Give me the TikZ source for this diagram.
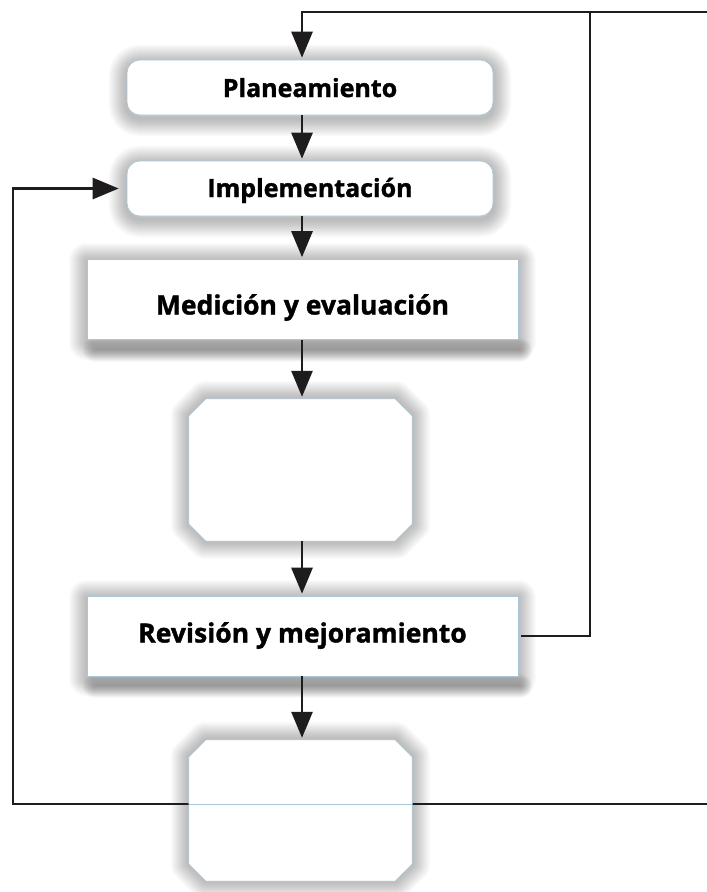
\documentclass[tikz,border=0pt]{standalone}
\usepackage{fontspec}
\setmainfont{Open Sans}[BoldFeatures={FakeBold=1.3}]
\usetikzlibrary{arrows.meta,calc}

\definecolor{edgeblue}{RGB}{168,200,218}
\definecolor{linkcol}{RGB}{30,28,28}

\pgfdeclarelayer{background}
\pgfsetlayers{background,main}

\tikzset{
  box/.style={inner sep=0pt, fill=white, draw=edgeblue, line width=0.6pt, font=\bfseries},
  roundbox/.style={box, rounded corners=13pt, minimum width=366pt, minimum height=55pt,
    font=\bfseries\fontsize{25}{28}\selectfont, text depth=0pt},
  flatbox/.style={box, rectangle, minimum width=431pt, minimum height=80pt,
    font=\bfseries\fontsize{26.5}{32}\selectfont},
  octspot/.style={inner sep=0pt, minimum width=223pt, minimum height=142pt},
  octface/.style={fill=white, draw=edgeblue, line width=0.6pt},
  glow/.style={draw=black!80, draw opacity=0.021, line join=round, line cap=round},
  dropglow/.style={draw=black!80, draw opacity=0.032, line cap=round},
  link/.style={draw=linkcol, line width=2.7pt},
  arrowlink/.style={link, -{Triangle[length=26pt,width=21pt]}, shorten >=2pt},
  octagon/.style 2 args={insert path={
    ([shift={(#2,0)}]#1.north west) -- ([shift={(-#2,0)}]#1.north east)
    -- ([shift={(0,#2)}]#1.north east) -- ([shift={(0,-#2)}]#1.south east)
    -- ([shift={(-#2,0)}]#1.south east) -- ([shift={(#2,0)}]#1.south west)
    -- ([shift={(0,-#2)}]#1.south west) -- ([shift={(0,#2)}]#1.north west) -- cycle}},
}

\begin{document}
\begin{tikzpicture}[x=1pt,y=-1pt]
\useasboundingbox (0,0) rectangle (707,892);

% process steps
\node[roundbox, text height=19pt] (plan) at (310,87.5) {Planeamiento};
\node[roundbox, text height=17pt] (impl) at (310,188.5) {Implementación};
\node[flatbox, text height=30pt, text depth=0pt] (med) at (302.5,299.5) {Medición y evaluación};
\node[octspot] (oct1) at (300.5,470) {};
\node[flatbox, text height=19pt, text depth=6pt] (rev) at (302.5,636) {Revisión y mejoramiento};
\node[octspot, minimum height=141pt] (oct2) at (300.5,810.5) {};

% routing points
\coordinate (spine) at (302,0);
\coordinate (rtop) at (590,12);
\coordinate (lbot) at (13,804);
\coordinate (edgeR) at (707,0);

\begin{pgfonlayer}{background}
  \fill[white] (0,0) rectangle (707,892);
  % return line under the last step
  \draw[link, line cap=rect] (lbot -| edgeR) -- (lbot);
  % soft glows: stacked translucent strokes fading outwards
  \foreach \k in {1,...,18}{
    \draw[glow, line width=2*\k pt, rounded corners=13pt]
      ([shift={(0,3)}]plan.north west) rectangle ([shift={(0,3)}]plan.south east);
    \draw[glow, line width=2*\k pt, rounded corners=13pt]
      ([shift={(0,3)}]impl.north west) rectangle ([shift={(0,3)}]impl.south east);
    \draw[glow, line width=2*\k pt]
      ([shift={(0,2)}]med.north west) rectangle ([shift={(0,2)}]med.south east);
    \draw[glow, line width=2*\k pt]
      ([shift={(0,2)}]rev.north west) rectangle ([shift={(0,2)}]rev.south east);
    \path[glow, line width=2*\k pt, octagon={oct1}{17}];
    \path[glow, line width=2*\k pt, octagon={oct2}{17}];
  }
  % drop shadows under the flat steps
  \foreach \k in {1,...,12}{
    \draw[dropglow, line width=2*\k pt]
      ([shift={(8,10)}]med.south west) -- ([shift={(2,10)}]med.south east);
    \draw[dropglow, line width=2*\k pt]
      ([shift={(8,10)}]rev.south west) -- ([shift={(2,10)}]rev.south east);
  }
\end{pgfonlayer}

% octagonal steps
\path[octface, octagon={oct1}{17}];
\path[octface, octagon={oct2}{17}];
\draw[edgeblue, line width=0.8pt] (oct2.west |- lbot) -- (oct2.east |- lbot);

% flow
\draw[arrowlink] (spine |- plan.south) -- (spine |- impl.north);
\draw[arrowlink] (spine |- impl.south) -- (spine |- med.north);
\draw[arrowlink] (spine |- med.south) -- (spine |- oct1.north);
\draw[arrowlink] (spine |- oct1.south) -- (spine |- rev.north);
\draw[arrowlink] (spine |- rev.south) -- (spine |- oct2.north);

% feedback loops
\draw[arrowlink, shorten <=3pt] (rev.east) -| (rtop) -| (spine |- plan.north);
\draw[link] (rtop) -- (rtop -| edgeR);
\draw[arrowlink, shorten >=8pt] (lbot) |- (impl.west);
\end{tikzpicture}
\end{document}
